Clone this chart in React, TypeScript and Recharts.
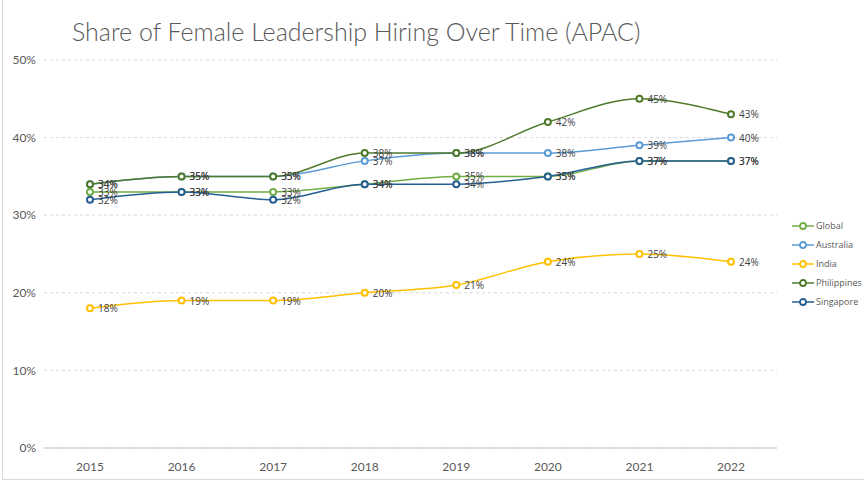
import React from 'react';
import { LineChart, Line, XAxis, YAxis, CartesianGrid, Legend, LabelList } from 'recharts';

const years = ['2015', '2016', '2017', '2018', '2019', '2020', '2021', '2022'];
const globalVals = [33, 33, 33, 34, 35, 35, 37, 37];
const australiaVals = [34, 35, 35, 37, 38, 38, 39, 40];
const indiaVals = [18, 19, 19, 20, 21, 24, 25, 24];
const philippinesVals = [34, 35, 35, 38, 38, 42, 45, 43];
const singaporeVals = [32, 33, 32, 34, 34, 35, 37, 37];
const yTicks = [0, 10, 20, 30, 40, 50];

const series = [
  { key: 'Global', values: globalVals, color: '#70AD47' },
  { key: 'Australia', values: australiaVals, color: '#5B9BD5' },
  { key: 'India', values: indiaVals, color: '#FFC000' },
  { key: 'Philippines', values: philippinesVals, color: '#4E7A2C' },
  { key: 'Singapore', values: singaporeVals, color: '#255E91' },
];

const data = years.map((y, i) => {
  const row: any = { year: y };
  series.forEach((s) => (row[s.key] = s.values[i]));
  return row;
});

const LabelText = (props: any) => {
  const { x, y, value } = props;
  return (
    <text x={x + 8} y={y + 4} fontSize={10} fill="#404040" fontFamily="'Open Sans', sans-serif">
      {value}%
    </text>
  );
};

const LegendContent = (props: any) => {
  const { payload } = props;
  return (
    <div>
      {series.map((s) => {
        const item = (payload || []).find((p: any) => p.value === s.key || p.dataKey === s.key);
        const color = item ? item.color : s.color;
        return (
          <div key={s.key} style={{ display: 'flex', alignItems: 'center', height: 19 }}>
            <svg width={22} height={10} style={{ marginRight: 2 }}>
              <line x1={0} y1={5} x2={22} y2={5} stroke={color} strokeWidth={1.5} />
              <circle cx={11} cy={5} r={3} fill="#fff" stroke={color} strokeWidth={1.8} />
            </svg>
            <span style={{ fontSize: 9, color: '#595959', fontFamily: "'Open Sans', sans-serif" }}>{s.key}</span>
          </div>
        );
      })}
    </div>
  );
};

export default function App() {
  return (
    <div style={{ position: 'absolute', left: 0, top: 0, width: 864, height: 486, background: '#fff' }}>
      <div
        style={{
          position: 'absolute',
          left: 2,
          top: 0,
          width: 862,
          height: 479,
          borderLeft: '1px solid #D9D9D9',
          borderBottom: '1px solid #D9D9D9',
        }}
      />
      <div
        style={{
          position: 'absolute',
          left: 72,
          top: 16,
          fontSize: 25,
          color: '#595959',
          fontFamily: 'Lato, sans-serif',
          fontWeight: 300,
          whiteSpace: 'nowrap',
        }}
      >
        Share of Female Leadership Hiring Over Time (APAC)
      </div>
      <LineChart
        width={864}
        height={486}
        data={data}
        margin={{ top: 60, right: 87, left: 0, bottom: 8 }}
        style={{ position: 'absolute', left: 0, top: 0 }}
      >
        <CartesianGrid vertical={false} stroke="#D9D9D9" strokeDasharray="3 3" />
        <XAxis
          dataKey="year"
          padding={{ left: 46, right: 46 }}
          tickLine={false}
          axisLine={{ stroke: '#D9D9D9', strokeWidth: 1.5 }}
          height={30}
          tickMargin={8}
          tick={{ fontSize: 12, fill: '#595959', fontFamily: 'Lato, sans-serif' }}
        />
        <YAxis
          domain={[0, 50]}
          ticks={yTicks}
          width={44}
          axisLine={false}
          tickLine={false}
          tickFormatter={(v: number) => `${v}%`}
          tick={{ fontSize: 12, fill: '#595959', fontFamily: 'Lato, sans-serif' }}
        />
        <Legend
          layout="vertical"
          align="center"
          verticalAlign="middle"
          content={<LegendContent />}
          wrapperStyle={{ left: 792, top: 216, width: 72 }}
        />
        {series.map((s) => (
          <Line
            key={s.key}
            type="monotone"
            dataKey={s.key}
            stroke={s.color}
            strokeWidth={1.5}
            dot={{ r: 3, fill: '#fff', stroke: s.color, strokeWidth: 2 }}
            activeDot={false}
            isAnimationActive={false}
          >
            <LabelList dataKey={s.key} content={<LabelText />} />
          </Line>
        ))}
      </LineChart>
    </div>
  );
}
